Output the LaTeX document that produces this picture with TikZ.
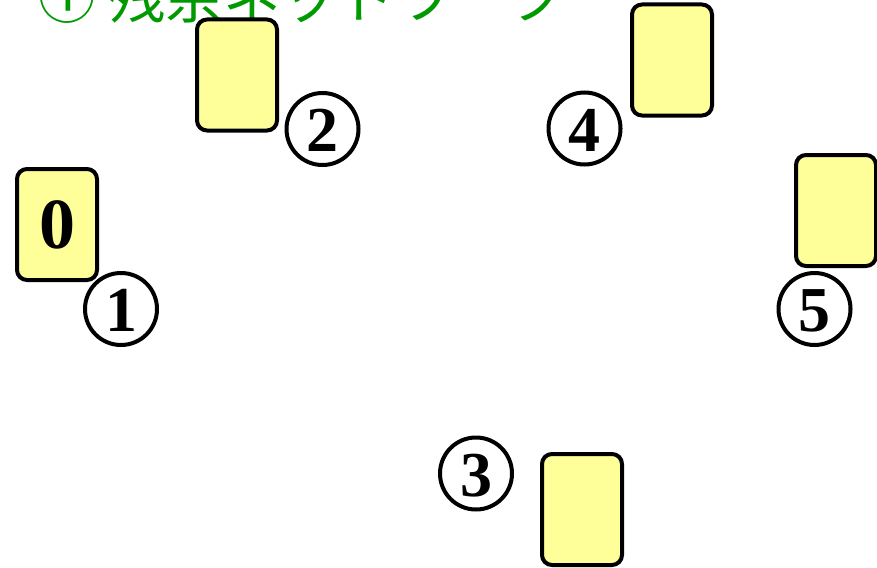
\documentclass[tikz,border=0pt]{standalone}
\usepackage{fontspec}
\setmainfont{Liberation Serif}
\newfontfamily\jpfont{Noto Sans CJK JP}
\usetikzlibrary{positioning}
\definecolor{cardyellow}{RGB}{255,255,153}
\definecolor{titlegreen}{RGB}{0,153,0}

\begin{document}
\begin{tikzpicture}[
				x=0.75pt, y=-0.75pt,
				card/.style={
					rectangle,
					draw,
					fill=cardyellow,
					minimum width=60pt,
					minimum height=83.25pt,
					rounded corners=7.5pt,
					line width=3pt,
					inner sep=0pt,
					font=\fontsize{54}{54}\selectfont\bfseries
				},
				num/.style={
					circle,
					draw,
					minimum size=54pt,
					line width=3pt,
					inner sep=0pt,
					text height=34pt,
					text depth=0pt,
					font=\fontsize{48}{48}\selectfont\bfseries
				}
				]
				
				\useasboundingbox (0,0) rectangle (877,567);
				
				% Title (cut off at the top)
				\node[anchor=base west, inner sep=0pt, text=titlegreen, font=\jpfont\fontsize{43}{43}\selectfont] (title) at (38,19) {① 残余ネットワーク};
				
				% Card 0 and number 1
				\node[card] (card0) at (57,224.5) {0};
				\node[num] (num1) at (121,309) {1};
				
				% Card 2 and number 2
				\node[card] (card2) at (237,75) {};
				\node[num] (num2) at (322.5,129) {2};
				
				% Card 4 and number 4
				\node[card] (card4) at (672,60) {};
				\node[num] (num4) at (584.5,128.5) {4};
				
				% Card 5 and number 5
				\node[card] (card5) at (836,210.5) {};
				\node[num] (num5) at (814.5,309) {5};
				
				% Card 3 and number 3
				\node[card] (card3) at (582,509.5) {};
				\node[num] (num3) at (476,473.5) {3};
				
			\end{tikzpicture}
\end{document}
